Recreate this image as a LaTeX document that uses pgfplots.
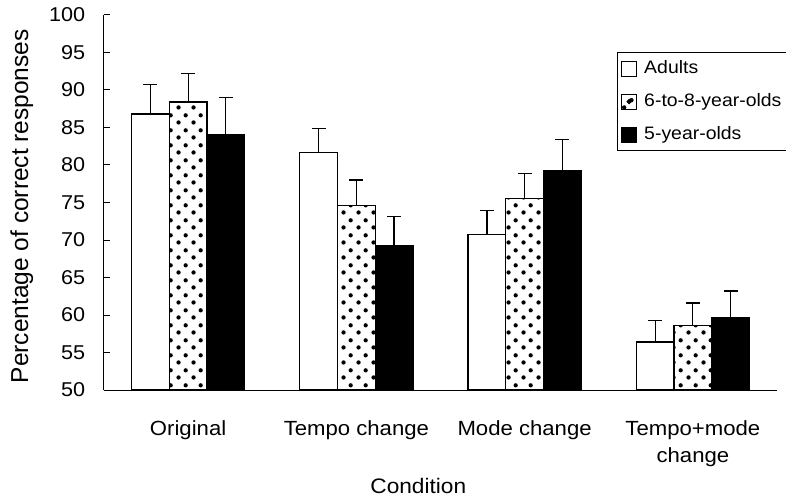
\documentclass[border=0pt]{standalone}
\usepackage{fontspec}
\setmainfont{Liberation Sans}[FakeStretch=1.08]
\newfontfamily\ylabfont{Liberation Sans}
\usepackage{pgfplots}
\pgfplotsset{compat=1.18}
\usetikzlibrary{patterns}
\pgfdeclarepatternformonly{bigdots}{\pgfqpoint{0pt}{0pt}}{\pgfqpoint{14.6pt}{14.6pt}}{\pgfqpoint{14.6pt}{14.6pt}}{%
  \pgfpathcircle{\pgfqpoint{3.65pt}{3.65pt}}{2.2pt}%
  \pgfpathcircle{\pgfqpoint{10.95pt}{10.95pt}}{2.2pt}%
  \pgfusepath{fill}}
\begin{document}
\fontsize{20}{24}\selectfont
\begin{tikzpicture}
\useasboundingbox (-104pt,-108pt) rectangle (682pt,390pt);
\begin{axis}[
  scale only axis, width=673pt, height=375pt,
  at={(0,0)}, anchor=south west,
  xmin=-0.5, xmax=3.5, ymin=50, ymax=100,
  ytick={50,55,...,100},
  xtick={0,1,2,3},
  /pgf/number format/assume math mode=true,
  xticklabels={Original, Tempo change, Mode change, {Tempo+mode\\change}},
  xticklabel style={align=center, yshift=-18pt, font=\fontsize{20.5}{27}\selectfont},
  yticklabel style={font=\fontsize{20}{24}\selectfont, xshift=-12pt},
  major x tick style={draw=none},
  axis x line=bottom, axis y line=left,
  axis line style={-, line width=1pt, black},
  tick align=inside, major tick length=6pt,
  major y tick style={line width=1pt, black},
  xlabel={Condition},
  xlabel style={at={(rel axis cs:0.467,0)}, anchor=center, yshift=-96pt, font=\fontsize{21}{24}\selectfont},
  ylabel={Percentage of correct responses},
  ylabel style={at={(axis description cs:-0.122,0.49)}, anchor=center, rotate=0, font=\ylabfont\fontsize{24.5}{28}\selectfont},
  ybar=0pt, bar width=37.7pt,
  every axis plot/.append style={draw=black, line width=1.2pt},
  error bars/y dir=plus, error bars/y explicit,
  error bars/error bar style={line width=1.2pt, black},
  error bars/error mark options={line width=1.2pt, black, mark size=7pt, rotate=90},
  legend style={at={(rel axis cs:0.762,0.901)}, anchor=north west, draw=black, line width=0.8pt,
    font=\fontsize{18}{21}\selectfont, inner xsep=4pt, inner ysep=6pt, row sep=13pt, column sep=5pt, cells={anchor=west}},
  legend cell align=left,
]
\addplot[fill=white, legend image code/.code={\draw[black, line width=1pt, fill=white] (0pt,-7.5pt) rectangle (15pt,7.5pt);}]
  coordinates {(0,86.8) +- (0,3.9) (1,81.7) +- (0,3.2) (2,70.7) +- (0,3.2) (3,56.4) +- (0,2.9)};
\addlegendentry{Adults}
\addplot[fill=white, postaction={pattern=bigdots}, legend image code/.code={\draw[black, line width=1pt, fill=white] (0pt,-7.5pt) rectangle (15pt,7.5pt); \fill[black] (7.5pt,0pt) circle (1.8pt);}]
  coordinates {(0,88.4) +- (0,3.8) (1,74.6) +- (0,3.4) (2,75.5) +- (0,3.4) (3,58.6) +- (0,3.0)};
\addlegendentry{6-to-8-year-olds}
\addplot[fill=black, legend image code/.code={\draw[black, line width=1pt, fill=black] (0pt,-7.5pt) rectangle (15pt,7.5pt);}]
  coordinates {(0,84.1) +- (0,4.9) (1,69.2) +- (0,3.9) (2,79.3) +- (0,4.1) (3,59.6) +- (0,3.6)};
\addlegendentry{5-year-olds}
\end{axis}
\end{tikzpicture}
\end{document}
